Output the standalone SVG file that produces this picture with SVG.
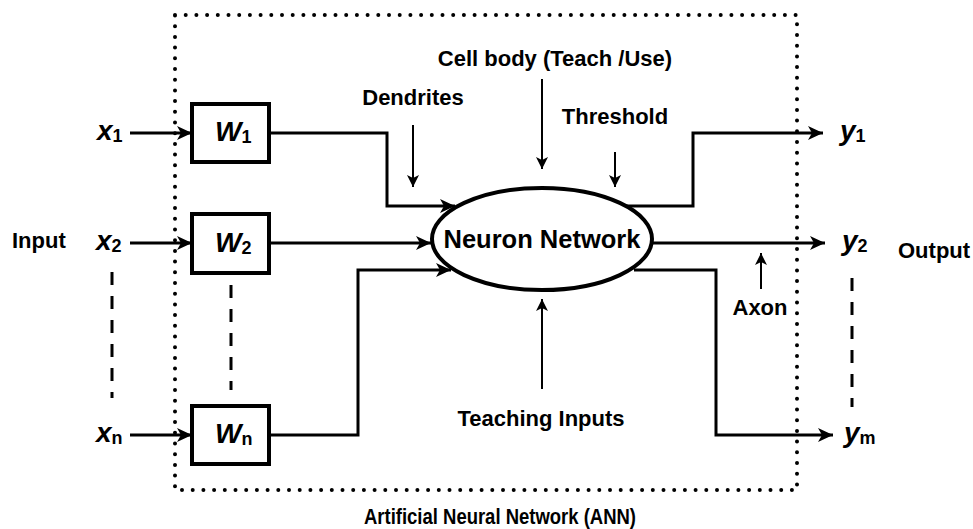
<svg xmlns="http://www.w3.org/2000/svg" width="973" height="529" viewBox="0 0 973 529">
<style>
text{font-family:"Liberation Sans",Arial,sans-serif;font-weight:bold;fill:#000}
.lbl{font-size:22px}
.var{font-size:28px;font-style:italic}
.sub{font-size:18px;font-style:normal}
.box{fill:#fff;stroke:#000;stroke-width:4}
.ln{fill:none;stroke:#000;stroke-width:3}
.thin{fill:none;stroke:#000;stroke-width:2}
.dash{fill:none;stroke:#000;stroke-width:3;stroke-dasharray:13 11}
.dot{fill:none;stroke:#000;stroke-width:4;stroke-linecap:round;stroke-dasharray:0 10.7}
</style>
<defs>
<marker id="ah" markerUnits="userSpaceOnUse" markerWidth="15" markerHeight="14" refX="15" refY="7" orient="auto">
<path d="M0,0 L15,7 L0,14 L4,7 z" fill="#000"/>
</marker>
<marker id="ahs" markerUnits="userSpaceOnUse" markerWidth="12" markerHeight="12" refX="12" refY="6" orient="auto">
<path d="M0,0 L12,6 L0,12 L3,6 z" fill="#000"/>
</marker>
</defs>
<rect id="border" class="dot" x="175" y="15" width="622" height="475"/>
<g id="connectors">
<path class="ln" d="M130,133 H192" marker-end="url(#ah)"/>
<path class="ln" d="M130,243 H192" marker-end="url(#ah)"/>
<path class="ln" d="M130,435 H192" marker-end="url(#ah)"/>
<path class="ln" d="M269,133 H387 V206 H455" marker-end="url(#ah)"/>
<path class="ln" d="M269,243 H431" marker-end="url(#ah)"/>
<path class="ln" d="M269,435 H358 V270 H451" marker-end="url(#ah)"/>
<path class="ln" d="M622,206 H693 V133 H823" marker-end="url(#ah)"/>
<path class="ln" d="M652,243 H825" marker-end="url(#ah)"/>
<path class="ln" d="M634,270 H716 V435 H833" marker-end="url(#ah)"/>
<path class="thin" d="M413,125 V187" marker-end="url(#ahs)"/>
<path class="thin" d="M542,79 V169" marker-end="url(#ahs)"/>
<path class="thin" d="M615,152 V187" marker-end="url(#ahs)"/>
<path class="thin" d="M761,289 V253" marker-end="url(#ahs)"/>
<path class="thin" d="M542,389 V299" marker-end="url(#ahs)"/>
<path class="dash" d="M112,272 V398"/>
<path class="dash" d="M231,285 V390"/>
<path class="dash" d="M852,278 V407"/>
</g>
<g id="w1"><rect class="box" x="192" y="104" width="77" height="58"/><text class="var" x="215" y="141">W<tspan class="sub" dy="2">1</tspan></text></g>
<g id="w2"><rect class="box" x="192" y="214" width="77" height="59"/><text class="var" x="215" y="252">W<tspan class="sub" dy="2">2</tspan></text></g>
<g id="wn"><rect class="box" x="192" y="406" width="77" height="58"/><text class="var" x="215" y="443">W<tspan class="sub" dy="2">n</tspan></text></g>
<g id="neuron"><ellipse cx="542" cy="239" rx="110" ry="51" fill="#fff" stroke="#000" stroke-width="4"/><text x="542" y="248" font-size="25.5" text-anchor="middle">Neuron Network</text></g>
<g id="inputs">
<text class="var" x="97" y="140">x<tspan class="sub" dy="2">1</tspan></text>
<text class="var" x="96" y="250">x<tspan class="sub" dy="2">2</tspan></text>
<text class="var" x="96" y="442">x<tspan class="sub" dy="2">n</tspan></text>
<text class="lbl" x="12" y="248">Input</text>
</g>
<g id="outputs">
<text class="var" x="840" y="140">y<tspan class="sub" dy="2">1</tspan></text>
<text class="var" x="842" y="250">y<tspan class="sub" dy="2">2</tspan></text>
<text class="var" x="844" y="442">y<tspan class="sub" dy="2">m</tspan></text>
<text class="lbl" x="898" y="258">Output</text>
</g>
<g id="labels">
<text class="lbl" x="555" y="66" text-anchor="middle" font-size="24">Cell body (Teach /Use)</text>
<text class="lbl" x="413" y="105" text-anchor="middle">Dendrites</text>
<text class="lbl" x="615" y="124" text-anchor="middle">Threshold</text>
<text class="lbl" x="760" y="315" text-anchor="middle">Axon</text>
<text class="lbl" x="541" y="426" text-anchor="middle" font-size="23">Teaching Inputs</text>
<text class="lbl" x="500" y="524" text-anchor="middle" textLength="272" lengthAdjust="spacingAndGlyphs" font-size="22">Artificial Neural Network (ANN)</text>
</g>
</svg>
